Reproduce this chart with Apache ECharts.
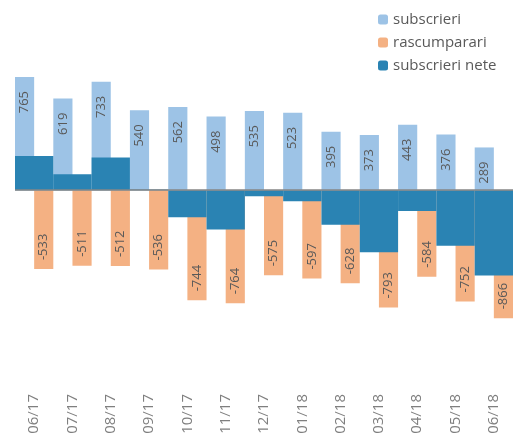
<!DOCTYPE html>
<html style="height: 100%">
<head>
<meta charset="utf-8">
</head>
<body style="height: 100%; margin: 0">
<div id="container" style="width: 518px; height: 440px"></div>
<script type="text/javascript" src="https://cdn.jsdelivr.net/npm/echarts@6/dist/echarts.min.js"></script>
<script type="text/javascript">
var months = ['06/17', '07/17', '08/17', '09/17', '10/17', '11/17', '12/17', '01/18', '02/18', '03/18', '04/18', '05/18', '06/18'];
var subscrieri = [765, 619, 733, 540, 562, 498, 535, 523, 395, 373, 443, 376, 289];
var rascumparari = [-533, -511, -512, -536, -744, -764, -575, -597, -628, -793, -584, -752, -866];
var nete = [232, 108, 221, 4, -182, -266, -40, -74, -233, -420, -141, -376, -577];

var fontName = 'Open Sans';
var myChart = echarts.init(document.getElementById('container'));

var option = {
    animation: false,
    textStyle: { fontFamily: fontName },
    legend: {
        orient: 'vertical',
        left: 373,
        top: 7,
        itemWidth: 10,
        itemHeight: 10,
        itemGap: 8,
        textStyle: { color: '#595959', fontSize: 15, fontFamily: fontName },
        data: ['subscrieri', 'rascumparari', 'subscrieri nete']
    },
    grid: { left: 15, right: 5, top: 77, bottom: 50 },
    xAxis: [{
        type: 'category',
        data: months,
        axisLine: { show: false },
        axisTick: { show: false },
        axisLabel: { rotate: 90, color: '#7f7f7f', fontSize: 15, margin: 4 }
    }, {
        type: 'category',
        data: months,
        show: false
    }],
    yAxis: {
        type: 'value',
        min: -1350,
        max: 765,
        show: false,
        splitLine: { show: false }
    },
    series: [{
        name: 'subscrieri',
        type: 'bar',
        xAxisIndex: 0,
        data: subscrieri,
        barGap: 0,
        barCategoryGap: 0,
        itemStyle: { color: '#9dc3e6' },
        label: {
            show: true,
            position: 'insideTop',
            distance: 14,
            rotate: 90,
            align: 'right',
            verticalAlign: 'middle',
            color: '#595959',
            fontSize: 13
        }
    }, {
        name: 'rascumparari',
        type: 'bar',
        xAxisIndex: 0,
        data: rascumparari,
        barGap: 0,
        barCategoryGap: 0,
        itemStyle: { color: '#f4b183' },
        label: {
            show: true,
            position: 'insideBottom',
            distance: 9,
            rotate: 90,
            align: 'left',
            verticalAlign: 'middle',
            color: '#595959',
            fontSize: 13
        }
    }, {
        name: 'subscrieri nete',
        type: 'bar',
        xAxisIndex: 1,
        data: nete,
        barCategoryGap: 0,
        z: 3,
        itemStyle: { color: '#2a83b3' },
        markLine: {
            silent: true,
            symbol: 'none',
            label: { show: false },
            lineStyle: { color: '#868686', width: 1.5, type: 'solid' },
            data: [{ yAxis: 0 }]
        }
    }]
};

myChart.setOption(option);
</script>
</body>
</html>
